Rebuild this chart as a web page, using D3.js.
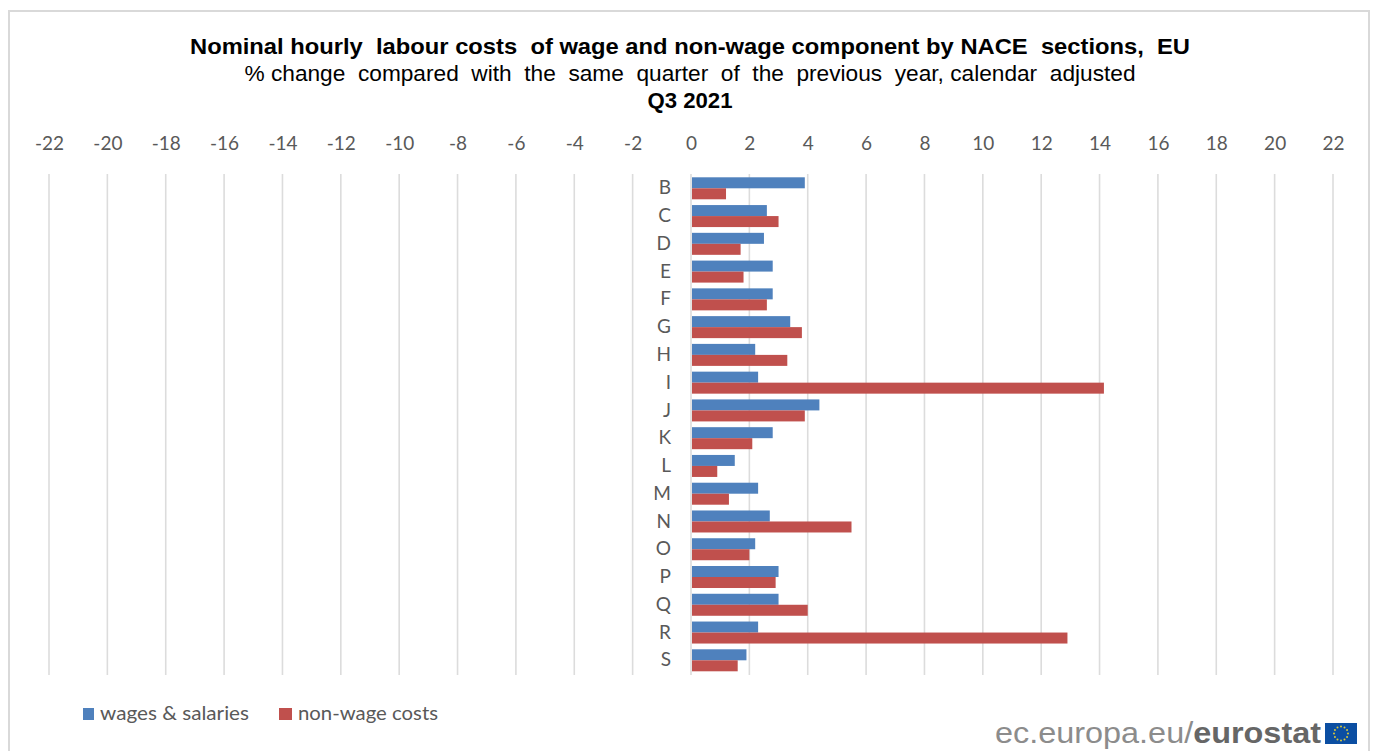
<!DOCTYPE html>
<html>
<head>
<meta charset="utf-8">
<script src="https://cdn.jsdelivr.net/npm/d3@7"></script>
<style>
  html, body { margin: 0; padding: 0; background: #fff; overflow: hidden; }
  svg { display: block; }
  text { white-space: pre; }
  .title { font-family: "Liberation Sans", sans-serif; fill: #000; text-anchor: middle; }
  .axis text { font-family: Lato, sans-serif; font-size: 19px; fill: #595959; }
  .axis path, .axis line { display: none; }
  .grid { stroke: #dcdcdc; stroke-width: 1.6; }
  .legend { font-family: Lato, sans-serif; font-size: 19px; fill: #595959; }
</style>
</head>
<body>
<svg width="1375" height="751"></svg>
<script>
var sections = ['B','C','D','E','F','G','H','I','J','K','L','M','N','O','P','Q','R','S'];
var wages = [3.9,2.6,2.5,2.8,2.8,3.4,2.2,2.3,4.4,2.8,1.5,2.3,2.7,2.2,3.0,3.0,2.3,1.9];
var nonWage = [1.2,3.0,1.7,1.8,2.6,3.8,3.3,14.15,3.9,2.1,0.9,1.3,5.5,2.0,2.9,4.0,12.9,1.6];
var ticks = d3.range(-22, 23, 2);
var seriesNames = ['wages & salaries', 'non-wage costs'];
var seriesColors = ['#4f81bd', '#c0504d'];

var svg = d3.select('svg');

svg.append('rect')
    .attr('x', 9).attr('y', 11).attr('width', 1360).attr('height', 760)
    .attr('fill', '#fff').attr('stroke', '#d9d9d9').attr('stroke-width', 2);

var titles = [
  { text: 'Nominal hourly  labour costs  of wage and non-wage component by NACE  sections,  EU', y: 54, weight: 'bold', len: 1000 },
  { text: '% change  compared  with  the  same  quarter  of  the  previous  year, calendar  adjusted', y: 81, weight: 'normal', len: 891 },
  { text: 'Q3 2021', y: 108, weight: 'bold', len: 85 }
];
svg.selectAll('text.title')
  .data(titles)
  .enter()
  .append('text')
    .attr('class', 'title')
    .attr('x', 690)
    .attr('y', d => d.y)
    .attr('font-size', 22)
    .attr('font-weight', d => d.weight)
    .attr('textLength', d => d.len)
    .attr('lengthAdjust', 'spacingAndGlyphs')
    .text(d => d.text);

var x = d3.scaleLinear().domain([-22, 22]).range([49, 1333]);
var y = d3.scalePoint().domain(sections).range([188.3, 660.3]);
var barH = 11;

svg.append('g')
  .selectAll('line')
  .data(ticks)
  .enter()
  .append('line')
    .attr('class', 'grid')
    .attr('x1', d => x(d)).attr('x2', d => x(d))
    .attr('y1', 174).attr('y2', 675);

svg.append('g')
    .attr('class', 'axis')
    .attr('transform', 'translate(0,150)')
    .call(d3.axisTop(x).tickValues(ticks).tickSize(0).tickPadding(0).tickFormat(d3.format('d')))
    .selectAll('text')
    .text(d => String(d));

svg.append('g')
    .attr('class', 'axis')
    .attr('transform', 'translate(671,-0.5)')
    .call(d3.axisLeft(y).tickSize(0).tickPadding(0));

svg.append('g')
  .selectAll('rect')
  .data(wages)
  .enter()
  .append('rect')
    .attr('x', x(0) + 1)
    .attr('y', (d, i) => y(sections[i]) - barH)
    .attr('width', d => x(d) - x(0) - 1)
    .attr('height', barH)
    .attr('fill', seriesColors[0]);

svg.append('g')
  .selectAll('rect')
  .data(nonWage)
  .enter()
  .append('rect')
    .attr('x', x(0) + 1)
    .attr('y', (d, i) => y(sections[i]))
    .attr('width', d => x(d) - x(0) - 1)
    .attr('height', barH)
    .attr('fill', seriesColors[1]);

// legend
var legendX = [83, 279];
var legendLen = [149, 140];
var legend = svg.append('g')
  .selectAll('g')
  .data(seriesNames)
  .enter()
  .append('g');
legend.append('rect')
    .attr('x', (d, i) => legendX[i])
    .attr('y', 708)
    .attr('width', (d, i) => i ? 13 : 11)
    .attr('height', 12)
    .attr('fill', (d, i) => seriesColors[i]);
legend.append('text')
    .attr('class', 'legend')
    .attr('x', (d, i) => legendX[i] + (i ? 19 : 17))
    .attr('y', 720)
    .attr('textLength', (d, i) => legendLen[i])
    .attr('lengthAdjust', 'spacingAndGlyphs')
    .text(d => d);

// eurostat logo
var logo = svg.append('text')
    .attr('x', 995)
    .attr('y', 743)
    .attr('font-family', '"Liberation Sans", sans-serif')
    .attr('font-size', 30)
    .attr('textLength', 326)
    .attr('lengthAdjust', 'spacingAndGlyphs');
logo.append('tspan').attr('fill', '#8c8c8c').text('ec.europa.eu/');
logo.append('tspan').attr('fill', '#666').attr('font-weight', 'bold').text('eurostat');

svg.append('rect')
    .attr('x', 1325).attr('y', 723).attr('width', 32).attr('height', 21)
    .attr('fill', '#0b4ea2');
svg.append('g')
  .selectAll('circle')
  .data(d3.range(12))
  .enter()
  .append('circle')
    .attr('cx', d => 1341 + 7 * Math.cos(d * Math.PI / 6))
    .attr('cy', d => 733.5 + 7 * Math.sin(d * Math.PI / 6))
    .attr('r', 1)
    .attr('fill', '#d9c83a');
</script>
</body>
</html>
